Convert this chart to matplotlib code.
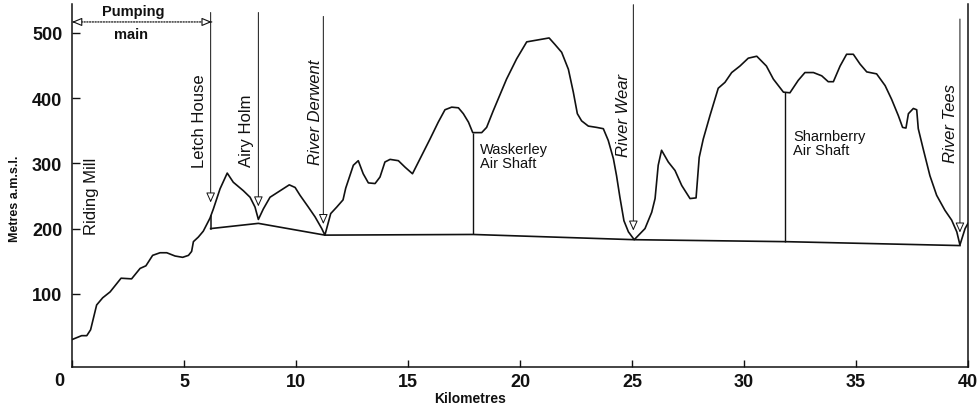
import matplotlib
matplotlib.use('Agg')
import matplotlib.pyplot as plt
import numpy as np

plt.rcParams['font.family'] = ['Liberation Sans', 'DejaVu Sans']

# ---------------- data ----------------
ground_km = [0, 0.43, 0.66, 0.83, 1.1, 1.37, 1.7, 2.19, 2.66, 3.04,
             3.30, 3.60, 3.93, 4.23, 4.6, 4.94, 5.2, 5.34, 5.42, 5.64,
             5.86, 6.16, 6.31, 6.61, 6.93, 7.2, 7.65, 7.95, 8.17, 8.32,
             8.54, 8.84, 9.29, 9.7, 9.96, 10.18, 10.55, 10.85, 11.15, 11.29,
             11.55, 11.82, 12.1, 12.22, 12.56, 12.78, 13.0, 13.23, 13.53, 13.75,
             13.97, 14.2, 14.57, 14.87, 15.2, 15.54, 15.98, 16.35, 16.65, 16.95,
             17.25, 17.47, 17.7, 17.89, 18.29, 18.51, 18.8, 19.4, 19.85, 20.3,
             20.8, 21.3, 21.56, 21.86, 22.16, 22.38, 22.56, 22.75, 23.05, 23.42,
             23.72, 23.94, 24.17, 24.31, 24.46, 24.64, 24.84, 25.1, 25.58, 25.88,
             26.03, 26.17, 26.32, 26.62, 26.92, 27.22, 27.59, 27.86, 28.0, 28.18,
             28.48, 28.85, 29.15, 29.45, 29.82, 30.19, 30.57, 31.0, 31.31, 31.76,
             32.05, 32.42, 32.72, 33.1, 33.47, 33.76, 33.99, 34.29, 34.58, 34.88,
             35.18, 35.48, 35.92, 36.3, 36.59, 36.89, 37.08, 37.23, 37.34, 37.56,
             37.71, 37.78, 38.0, 38.3, 38.6, 38.97, 39.27, 39.5, 39.64, 39.87,
             40.0]
ground_m = [30, 36, 36, 45, 83, 94, 103, 124, 123, 139,
            143, 159, 163, 163, 158, 156, 159, 165, 180, 187,
            196, 216, 230, 261, 285, 271, 258, 248, 233, 214,
            230, 248, 258, 267, 263, 251, 233, 218, 200, 190,
            223, 233, 244, 262, 297, 304, 284, 270, 269, 279,
            302, 306, 304, 294, 284, 307, 337, 363, 382, 386,
            385, 376, 363, 347, 347, 355, 380, 429, 460, 486,
            489, 492, 482, 470, 444, 409, 376, 365, 357, 355,
            353, 335, 307, 281, 248, 212, 195, 183, 200, 225,
            246, 297, 320, 302, 289, 266, 246, 247, 309, 337,
            373, 415, 424, 439, 449, 461, 464, 449, 429, 409,
            408, 427, 439, 439, 434, 425, 425, 449, 467, 467,
            452, 440, 437, 419, 398, 373, 355, 354, 376, 384,
            382, 353, 322, 281, 251, 228, 213, 195, 175, 200,
            208]

tunnel_km = [6.19, 8.32, 11.29, 17.9, 25.1, 31.83, 39.64]
tunnel_m = [200, 208, 190, 191, 183, 180, 174]

shaft_km = [17.89, 31.83]
shaft_names = ['Waskerley\nAir Shaft', 'Sharnberry\nAir Shaft']
shaft_label_km = [18.21, 32.19]
shaft_label_top = [333, 353]

arrow_km = [6.19, 8.32, 11.22, 25.06, 39.64]
arrow_top = [531, 531, 525, 543, 521]
arrow_tip = [240, 234, 207, 197, 194]

place_names = ['Riding Mill', 'Letch House', 'Airy Holm', 'River Derwent',
               'River Wear', 'River Tees']
place_km = [0.85, 5.71, 7.81, 10.85, 24.6, 39.2]
place_bottom = [191, 294, 296, 299, 311, 302]
place_italic = [False, False, False, True, True, True]

pump_start_km, pump_end_km, pump_level = 0.0, 6.24, 516.5

x_ticks = [0, 5, 10, 15, 20, 25, 30, 35, 40]
y_ticks = [100, 200, 300, 400, 500]

# ---------------- figure ----------------
ink = '#111111'
fig = plt.figure(figsize=(9.8, 4.1), dpi=100)
ax = fig.add_axes([72 / 980, 42 / 410, 896 / 980, 363 / 410])
ax.set_xlim(0, 40)
ax.set_ylim(-12, 544)

ax.plot(ground_km, ground_m, color=ink, lw=1.2, solid_joinstyle='round')
ax.plot(tunnel_km, tunnel_m, color=ink, lw=1.2)

# Letch House drop from ground to tunnel
g_letch = np.interp(tunnel_km[0], ground_km, ground_m)
ax.plot([tunnel_km[0], tunnel_km[0]], [g_letch, tunnel_m[0]], color=ink, lw=1.1)

# air shafts
ax.vlines(shaft_km, np.interp(shaft_km, tunnel_km, tunnel_m),
          np.interp(shaft_km, ground_km, ground_m), color=ink, lw=1.0)
for name, xk, yt in zip(shaft_names, shaft_label_km, shaft_label_top):
    ax.text(xk, yt, name, ha='left', va='top', fontsize=10.5, color=ink,
            linespacing=1.05)

# location arrows
for xk, yt, yb in zip(arrow_km, arrow_top, arrow_tip):
    ax.annotate('', xy=(xk, yb), xytext=(xk, yt),
                arrowprops=dict(arrowstyle='-|>,head_length=0.6,head_width=0.27',
                                fc='white', ec=ink, lw=0.7,
                                shrinkA=0, shrinkB=0))

# place labels
for name, xk, yb, it in zip(place_names, place_km, place_bottom, place_italic):
    ax.text(xk, yb, name, rotation=90, ha='center', va='bottom',
            fontsize=12, color=ink, style='italic' if it else 'normal')

# pumping main
ax.annotate('', xy=(pump_start_km, pump_level), xytext=(pump_end_km, pump_level),
            arrowprops=dict(arrowstyle='-', ls=(0, (1, 1.2)), lw=0.9, color=ink,
                            shrinkA=0, shrinkB=0))
for xe, xs in [(pump_start_km, pump_start_km + 0.4), (pump_end_km, pump_end_km - 0.4)]:
    ax.annotate('', xy=(xe, pump_level), xytext=(xs, pump_level),
                arrowprops=dict(arrowstyle='-|>,head_length=0.6,head_width=0.25',
                                fc='white', ec=ink, lw=0.8, shrinkA=0, shrinkB=0))
pump_mid = (pump_start_km + pump_end_km) / 2
ax.text(pump_mid - 0.4, pump_level + 6, 'Pumping', ha='center', va='bottom',
        fontsize=10.5, weight='bold', color=ink)
ax.text(pump_mid - 0.5, pump_level - 8, 'main', ha='center', va='top',
        fontsize=10.5, weight='bold', color=ink)

# axes styling
for s in ['left', 'bottom', 'right']:
    ax.spines[s].set_linewidth(1.1)
    ax.spines[s].set_color(ink)
ax.spines['top'].set_visible(False)

ax.set_xticks(x_ticks)
ax.set_xticklabels([''] + [str(t) for t in x_ticks[1:]])
ax.set_yticks(y_ticks)
ax.tick_params(direction='in', width=1.0, colors=ink, labelsize=13)
ax.tick_params(axis='y', length=6, pad=7)
ax.tick_params(axis='x', length=5, pad=4)
for lbl in ax.get_xticklabels() + ax.get_yticklabels():
    lbl.set_fontweight('bold')
ax.annotate(str(x_ticks[0]), xy=(x_ticks[0], 0), xycoords=('data', 'axes fraction'),
            xytext=(-13, -5.5), textcoords='offset pixels', ha='center', va='top',
            fontsize=13, weight='bold', color=ink)

fig.text(15 / 980, 1 - 199 / 410, 'Metres a.m.s.l.', rotation=90, ha='center',
         va='center', fontsize=9, weight='bold', color=ink)
fig.text(470 / 980, 1 - 399 / 410, 'Kilometres', ha='center', va='center',
         fontsize=10, weight='bold', color=ink)

fig.savefig('out.png', dpi=100)
